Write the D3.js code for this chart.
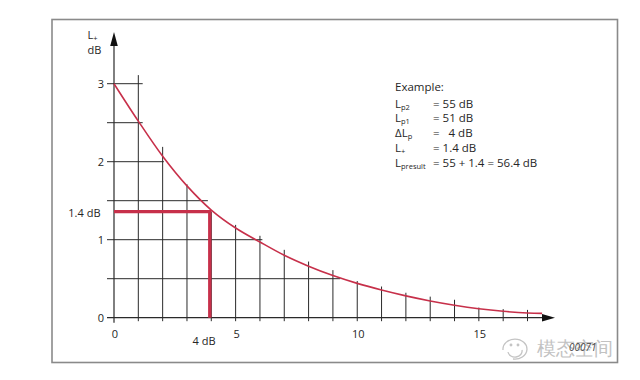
<!DOCTYPE html>
<html><head><meta charset="utf-8">
<script src="https://cdn.jsdelivr.net/npm/d3@7"></script>
<style>
body{margin:0;background:#fff}
svg text{font-family:"Open Sans","DejaVu Sans",sans-serif;fill:#262626}
</style>
</head><body>
<svg id="chart" width="640" height="380"></svg>
<script>
// ---- data ----
const deltaL = [0,1,2,3,4,5,6,7,8,9,10,11,12,13,14,15,16,17,17.6];
const lPlus  = [3.0,2.52,2.07,1.69,1.38,1.15,0.97,0.8,0.66,0.54,0.44,0.355,0.28,0.215,0.16,0.115,0.082,0.06,0.055];
const vGridX   = [1,2,3,4,5,6,7,8,9,10,11,12,13,14,15,16,17];
const vGridTop = [3.11,2.19,1.71,1.36,1.19,1.05,0.87,0.72,0.61,0.47,0.40,0.32,0.27,0.23,0.13,0.11,0.10];
const hGridY   = [0.5,1,1.5,2,2.5,3];
const hGridEnd = [9.3,6.1,3.86,2.05,1.18,1.18];
const xTicks = [0,5,10,15];
const yTicks = [0,1,2,3];
const exampleDeltaL = 4;
const exampleLPlus = 1.36;
const exampleLabels = ["4 dB","1.4 dB"];
const exampleTitle = "Example:";
const exampleRows = [
  {main:"L", sub:"p2", val:"= 55 dB"},
  {main:"L", sub:"p1", val:"= 51 dB"},
  {main:"\u0394L", sub:"p", val:"=   4 dB"},
  {main:"L", sub:"+", val:"= 1.4 dB"},
  {main:"L", sub:"presult", val:"= 55 + 1.4 = 56.4 dB"}
];
const watermark = "模态空间";
const imageCode = "00071";

// ---- drawing ----
const svg = d3.select("#chart");
const x = d3.scaleLinear().domain([0,17]).range([114,527.5]);
const y = d3.scaleLinear().domain([0,3]).range([317.7,83.7]);
const ink = "#2a2a2a", red = "#c7304a";

// frame
svg.append("rect").attr("x",52).attr("y",19.5).attr("width",565.5).attr("height",343)
  .attr("fill","none").attr("stroke","#8a8a8a").attr("stroke-width",1.6);

// vertical grid lines
svg.append("g").selectAll("line").data(vGridX).join("line")
  .attr("x1",d=>x(d)).attr("x2",d=>x(d))
  .attr("y1",y(0)+3.5).attr("y2",(d,i)=>y(vGridTop[i]))
  .attr("stroke",ink).attr("stroke-width",1);

// horizontal grid lines
svg.append("g").selectAll("line").data(hGridY).join("line")
  .attr("x1",x(0)-7).attr("x2",(d,i)=>x(hGridEnd[i]))
  .attr("y1",d=>y(d)).attr("y2",d=>y(d))
  .attr("stroke",ink).attr("stroke-width",1);

// axes
svg.append("line").attr("x1",x(0)-7).attr("x2",544).attr("y1",y(0)).attr("y2",y(0))
  .attr("stroke",ink).attr("stroke-width",1.2);
svg.append("line").attr("x1",x(0)).attr("x2",x(0)).attr("y1",y(0)+5).attr("y2",42)
  .attr("stroke",ink).attr("stroke-width",1.2);
svg.append("path").attr("d",`M${x(0)},32 L${x(0)-3.8},46 L${x(0)+3.8},46 Z`).attr("fill","#111");
svg.append("path").attr("d",`M555,${y(0)} L542,${y(0)-3.8} L542,${y(0)+3.8} Z`).attr("fill","#111");

// tick labels
svg.append("g").selectAll("text").data(yTicks).join("text")
  .attr("x",104).attr("y",d=>y(d)+4).attr("text-anchor","end")
  .attr("font-size",11).text(d=>d);
svg.append("g").selectAll("text").data(xTicks).join("text")
  .attr("x",d=>x(d)+1).attr("y",337.5).attr("text-anchor","middle")
  .attr("font-size",11).text(d=>d);

// axis title
const yt = svg.append("text").attr("x",87.5).attr("y",38.5).attr("font-size",11);
yt.append("tspan").text("L");
yt.append("tspan").attr("dy",2).attr("font-size",7.5).text("+");
svg.append("text").attr("x",87.5).attr("y",54).attr("font-size",11).text("dB");

// curve
const line = d3.line().x(d=>x(d[0])).y(d=>y(d[1])).curve(d3.curveCatmullRom.alpha(0.5));
svg.append("path").datum(deltaL.map((d,i)=>[d,lPlus[i]]))
  .attr("d",line).attr("fill","none").attr("stroke",red).attr("stroke-width",1.6);

// example reading lines
svg.append("path")
  .attr("d",`M${x(0)},${y(exampleLPlus)} H${x(exampleDeltaL)-1.5} V${y(0)}`)
  .attr("fill","none").attr("stroke",red).attr("stroke-width",3.4);
svg.append("text").attr("x",204).attr("y",345).attr("text-anchor","middle")
  .attr("font-size",11).text(exampleLabels[0]);
svg.append("text").attr("x",100.5).attr("y",216.5).attr("text-anchor","end")
  .attr("font-size",11).text(exampleLabels[1]);

// example box
svg.append("text").attr("x",395).attr("y",91).attr("font-size",11.5).text(exampleTitle);
exampleRows.forEach((r,i)=>{
  const yy = 107.5 + i*14.8;
  const t = svg.append("text").attr("x",395).attr("y",yy).attr("font-size",11.5);
  t.append("tspan").text(r.main);
  t.append("tspan").attr("dy",2).attr("font-size",7.5).text(r.sub);
  svg.append("text").attr("x",433).attr("y",yy).attr("font-size",11.5)
    .attr("xml:space","preserve").style("white-space","pre").text(r.val);
});

// watermark
const wm = svg.append("g").attr("stroke","#c4c4c4").attr("fill","none").attr("stroke-width",1.3);
wm.append("path").attr("d","M503,350 a12,10 0 1,1 10,9");
wm.append("path").attr("d","M508,352 a7,6 0 1,0 14,-2");
wm.append("circle").attr("cx",511).attr("cy",345).attr("r",0.8);
wm.append("circle").attr("cx",518).attr("cy",345).attr("r",0.8);
svg.append("text").attr("x",537).attr("y",355).attr("font-size",19)
  .attr("font-family","Noto Sans CJK SC").style("fill","#c2c2c2").text(watermark);
svg.append("text").attr("x",569).attr("y",351).attr("font-size",10)
  .attr("font-style","italic").style("fill","#444").text(imageCode);
</script>
</body></html>
